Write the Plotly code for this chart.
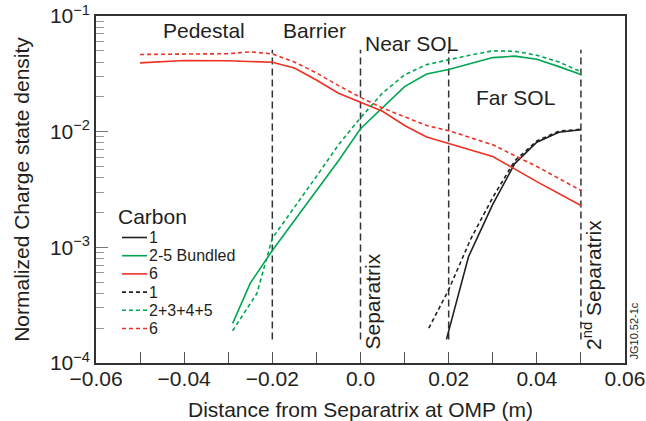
import math
import plotly.graph_objects as go

# ---------------- data ----------------
x_c6 = [-0.05, -0.04, -0.03, -0.02, -0.015, -0.01, -0.005, 0.0, 0.005, 0.01, 0.015, 0.02, 0.03, 0.04, 0.05]
c6_bundled = [0.0393, 0.0412, 0.0410, 0.0398, 0.0355, 0.0280, 0.0215, 0.0180, 0.0150, 0.0113, 0.0090, 0.0079, 0.0061, 0.0037, 0.0023]

x_c6_sum = [-0.05, -0.04, -0.03, -0.025, -0.02, -0.015, -0.01, -0.005, 0.0, 0.005, 0.01, 0.015, 0.02, 0.03, 0.04, 0.05]
c6_sum = [0.0465, 0.0466, 0.0472, 0.0490, 0.0470, 0.0400, 0.0322, 0.0250, 0.0198, 0.0160, 0.0135, 0.0113, 0.0102, 0.0077, 0.0050, 0.0031]

x_c25 = [-0.029, -0.025, -0.02, -0.015, -0.01, -0.005, 0.0, 0.005, 0.01, 0.015, 0.02, 0.025, 0.03, 0.035, 0.04, 0.045, 0.05]
c25_bundled = [0.00022, 0.00049, 0.00094, 0.0017, 0.0031, 0.0056, 0.0106, 0.0160, 0.0245, 0.0315, 0.0345, 0.0388, 0.0437, 0.0450, 0.0423, 0.0365, 0.0312]

x_c2345 = [-0.029, -0.0235, -0.02, -0.015, -0.01, -0.005, 0.0, 0.005, 0.01, 0.015, 0.02, 0.025, 0.03, 0.035, 0.04, 0.045, 0.05]
c2345_sum = [0.00019, 0.00040, 0.00120, 0.0022, 0.0041, 0.0077, 0.0132, 0.0216, 0.0310, 0.0380, 0.0420, 0.0460, 0.0500, 0.0495, 0.0458, 0.0400, 0.0330]

x_c1 = [0.0195, 0.0245, 0.03, 0.035, 0.04, 0.045, 0.05]
c1_bundled = [0.00016, 0.00083, 0.00235, 0.0053, 0.0081, 0.0099, 0.0104]

x_c1_sum = [0.0155, 0.02, 0.025, 0.03, 0.035, 0.04, 0.045, 0.05]
c1_sum = [0.00020, 0.00043, 0.00118, 0.0027, 0.0056, 0.0083, 0.0101, 0.0105]

region_bounds = [-0.02, 0.0, 0.02, 0.05]
bound_span = [0.00016, 0.051]

region_labels = ["Pedestal", "Barrier", "Near SOL", "Far SOL"]
region_label_x = [-0.0355, -0.0104, 0.0115, 0.0352]
region_label_y = [0.0752, 0.0752, 0.0580, 0.0198]

legend_title = "Carbon"
legend_labels = ["1", "2-5 Bundled", "6", "1", "2+3+4+5", "6"]

x_tickvals = [-0.06, -0.04, -0.02, 0.0, 0.02, 0.04, 0.06]
x_ticktext = ["\u22120.06", "\u22120.04", "\u22120.02", "0.0", "0.02", "0.04", "0.06"]
y_tickvals = [1e-4, 1e-3, 1e-2, 1e-1]
y_ticktext = ["10<sup>\u22124</sup>", "10<sup>\u22123</sup>", "10<sup>\u22122</sup>", "10<sup>\u22121</sup>"]
y_minor_vals = [m * d for d in y_tickvals[:-1] for m in range(2, 10)]

# ---------------- styles ----------------
RED = "#EE3124"
GREEN = "#00A651"
BLACK = "#231F20"
TXT = "#231F20"
FONT = "Liberation Sans, Arial, Helvetica, sans-serif"
DASH = "4px,3px"

series = [
    (x_c1, c1_bundled, BLACK, "solid"),
    (x_c25, c25_bundled, GREEN, "solid"),
    (x_c6, c6_bundled, RED, "solid"),
    (x_c1_sum, c1_sum, BLACK, DASH),
    (x_c2345, c2345_sum, GREEN, DASH),
    (x_c6_sum, c6_sum, RED, DASH),
]

fig = go.Figure()

for xb in region_bounds:
    fig.add_trace(go.Scatter(x=[xb, xb], y=bound_span, mode="lines",
                             line=dict(color="#333333", width=1.5, dash="7px,4px"),
                             showlegend=False, hoverinfo="skip"))

for (xs, ys, col, dash), name in zip(series, legend_labels):
    fig.add_trace(go.Scatter(x=xs, y=ys, mode="lines", name=name,
                             line=dict(color=col, width=1.6, dash=dash),
                             showlegend=False))

# region labels
for lab, lx, ly in zip(region_labels, region_label_x, region_label_y):
    fig.add_annotation(x=lx, y=math.log10(ly), xref="x", yref="y",
                       text=lab, showarrow=False, xanchor="center", yanchor="middle",
                       font=dict(size=21, color=TXT, family=FONT))

# rotated labels
fig.add_annotation(x=0.0025, y=-3.905, xref="x", yref="y", text="Separatrix",
                   textangle=-90, showarrow=False, xanchor="center", yanchor="bottom",
                   font=dict(size=21, color=TXT, family=FONT))
fig.add_annotation(x=0.0525, y=-3.905, xref="x", yref="y", text="2<sup>nd</sup> Separatrix",
                   textangle=-90, showarrow=False, xanchor="center", yanchor="bottom",
                   font=dict(size=21, color=TXT, family=FONT))

PW, PH = 529.0, 347.0
def px(xp):
    return (xp - 96) / PW
def py(yp):
    return (363 - yp) / PH

fig.add_annotation(x=px(633), y=py(362), xref="paper", yref="paper",
                   text="JG10.52-1c", textangle=-90, showarrow=False,
                   xanchor="center", yanchor="bottom",
                   font=dict(size=11, color=TXT, family=FONT))

# manual legend (keys drawn in paper coordinates)
fig.add_annotation(x=px(116), y=py(216.7), xref="paper", yref="paper", text=legend_title,
                   showarrow=False, xanchor="left", yanchor="middle",
                   font=dict(size=21, color=TXT, family=FONT))
for i, ((xs, ys, col, dash), lab) in enumerate(zip(series, legend_labels)):
    yy = 237.5 + 18.2 * i
    fig.add_shape(type="line", xref="paper", yref="paper",
                  x0=px(122), x1=px(147), y0=py(yy), y1=py(yy),
                  line=dict(color=col, width=1.6, dash=dash))
    fig.add_annotation(x=px(147), y=py(yy), xref="paper", yref="paper", text=lab,
                       showarrow=False, xanchor="left", yanchor="middle",
                       font=dict(size=16, color=TXT, family=FONT))

fig.update_layout(
    width=646, height=421,
    margin=dict(l=96, r=21, t=16, b=58),
    paper_bgcolor="white", plot_bgcolor="white",
    font=dict(family=FONT, color=TXT, size=21),
    showlegend=False,
)
fig.update_xaxes(
    range=[-0.06, 0.06], tickvals=x_tickvals, ticktext=x_ticktext,
    ticks="inside", ticklen=11, tickwidth=1.2, tickcolor="#555555",
    minor=dict(dtick=0.01, tick0=0, ticks="inside", ticklen=11, tickwidth=1.2, tickcolor="#555555"),
    showline=True, linecolor="#333333", linewidth=1.5, mirror=True,
    showgrid=False, zeroline=False, automargin=False,
    ticklabelstandoff=-4,
    tickfont=dict(size=21, family=FONT, color=TXT),
    title=dict(text="Distance from Separatrix at OMP (m)", font=dict(size=21, family=FONT, color=TXT)),
)
fig.update_yaxes(
    type="log", range=[-4, -1], tickvals=y_tickvals, ticktext=y_ticktext,
    ticks="inside", ticklen=12, tickwidth=1.2, tickcolor="#777777",
    minor=dict(tickvals=y_minor_vals, ticks="inside", ticklen=8, tickwidth=1.2,
               tickcolor="#999999", showgrid=False),
    showline=True, linecolor="#333333", linewidth=1.5, mirror=True,
    showgrid=False, zeroline=False, automargin=False,
    tickfont=dict(size=21, family=FONT, color=TXT),
    title=dict(text="Normalized Charge state density", font=dict(size=21, family=FONT, color=TXT)),
)

fig.write_html("out.html", config={"displayModeBar": False},
               post_script="document.body.style.margin='0';document.body.style.overflow='hidden';")
